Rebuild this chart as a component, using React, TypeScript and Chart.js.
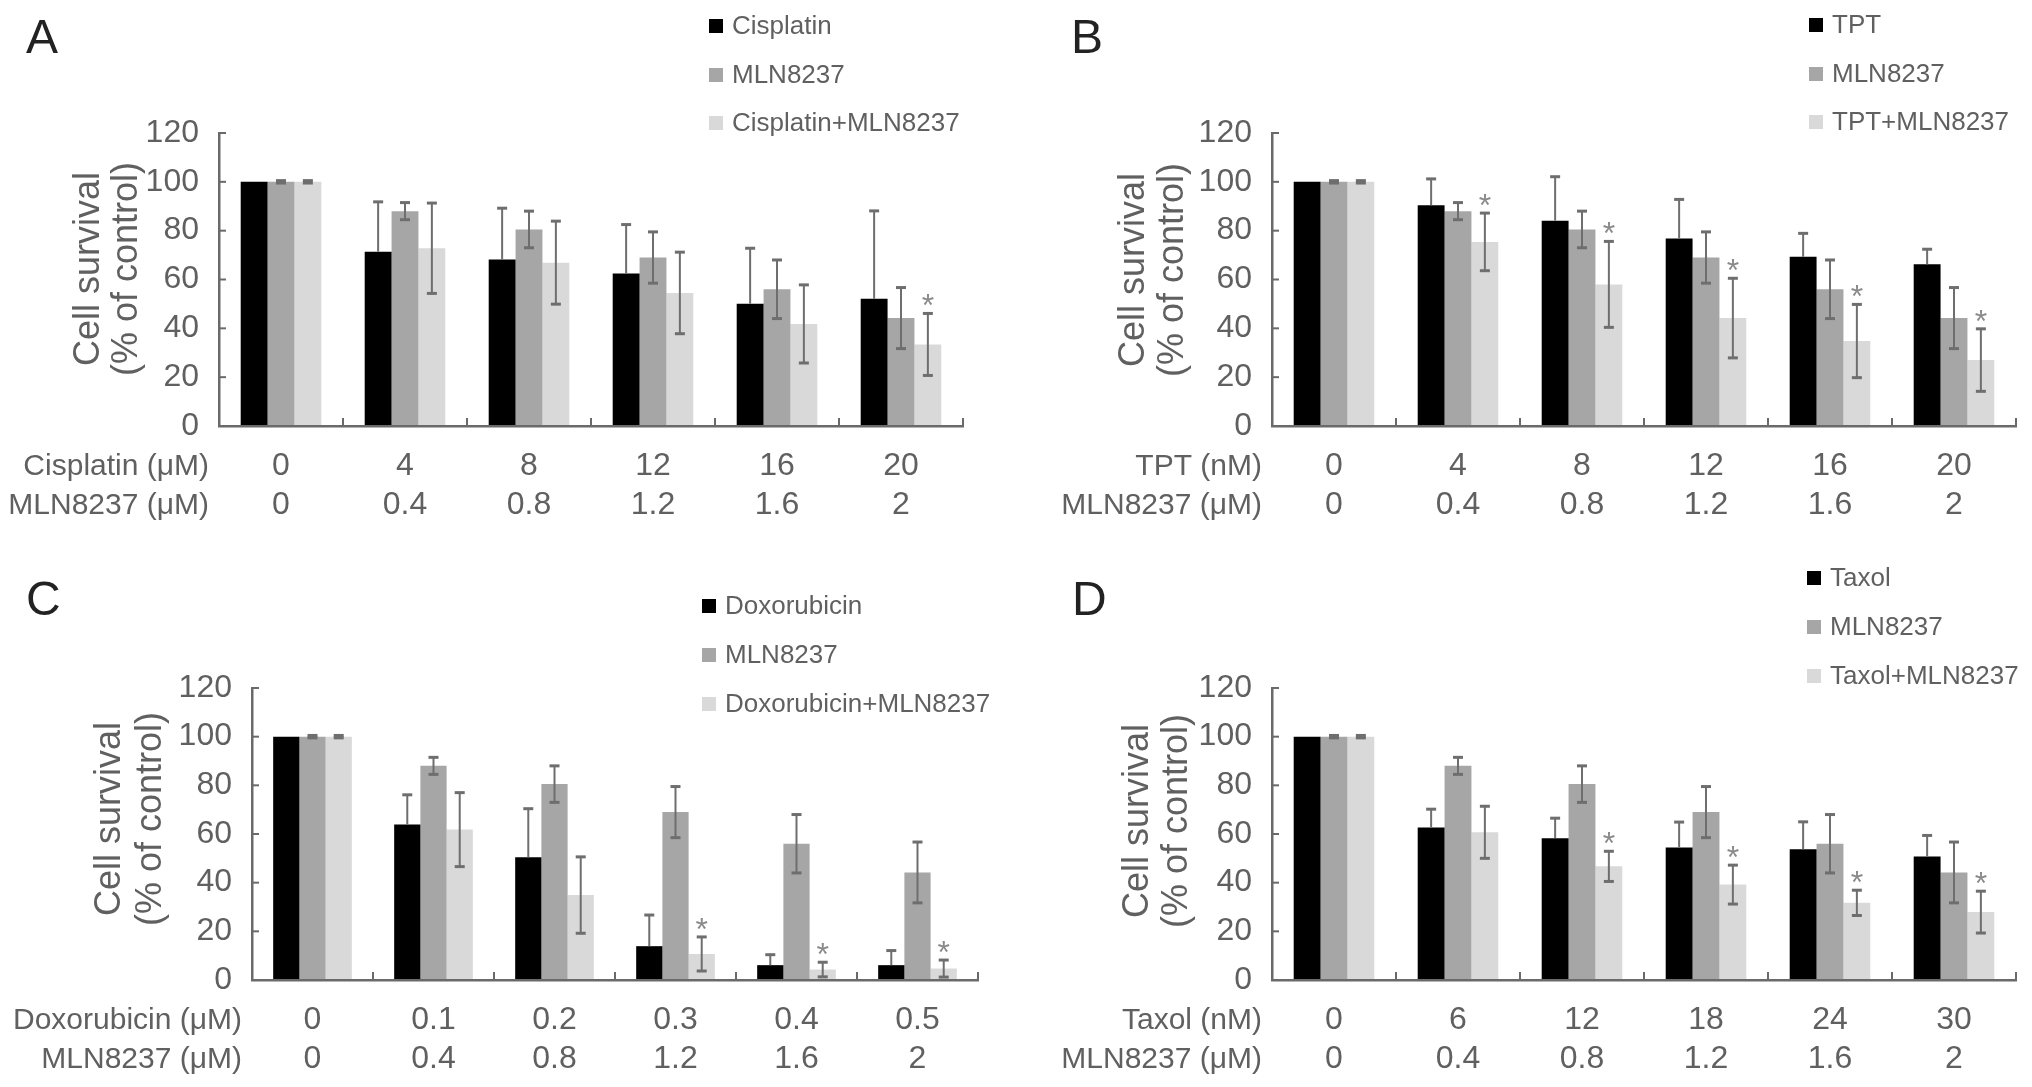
import React, { useEffect, useRef } from "react";
import { Chart, registerables } from "chart.js";

Chart.register(...registerables);

// ---------- shared MLN8237 series ----------
const mlnLabels = ["0", "0.4", "0.8", "1.2", "1.6", "2"];
const mlnValues = [100, 88, 80.5, 69, 56, 44.2];
const mlnErrors = [0.5, 3.5, 7.5, 10.5, 12, 12.5];

// ---------- Panel A: Cisplatin ----------
const cisplatinLabels = ["0", "4", "8", "12", "16", "20"];
const cisplatinValues = [100, 71.4, 68.2, 62.5, 50.1, 52.1];
const cisplatinErrors = [0, 20.4, 21, 20, 22.7, 36];
const cisplatinComboValues = [100, 72.8, 66.9, 54.5, 41.8, 33.4];
const cisplatinComboErrors = [0.5, 18.5, 17, 16.7, 16, 12.7];
const cisplatinStars = [false, false, false, false, false, true];

// ---------- Panel B: TPT ----------
const tptLabels = ["0", "4", "8", "12", "16", "20"];
const tptValues = [100, 90.4, 84.1, 76.8, 69.3, 66.2];
const tptErrors = [0, 10.8, 18, 16, 9.6, 6.2];
const tptComboValues = [100, 75.4, 58, 44.2, 34.8, 27];
const tptComboErrors = [0.5, 11.8, 17.6, 16.3, 15, 12.8];
const tptStars = [false, true, true, true, true, true];

// ---------- Panel C: Doxorubicin ----------
const doxLabels = ["0", "0.1", "0.2", "0.3", "0.4", "0.5"];
const doxValues = [100, 63.9, 50.4, 13.9, 6.1, 6.1];
const doxErrors = [0, 12.2, 20, 12.8, 4.3, 6];
const doxComboValues = [100, 61.8, 34.9, 10.7, 4.3, 4.7];
const doxComboErrors = [0.5, 15.2, 15.7, 7, 3, 3.5];
const doxStars = [false, false, false, true, true, true];

// ---------- Panel D: Taxol ----------
const taxolLabels = ["0", "6", "12", "18", "24", "30"];
const taxolValues = [100, 62.7, 58.3, 54.5, 53.7, 50.8];
const taxolErrors = [0, 7.5, 8.2, 10.4, 11.3, 8.6];
const taxolComboValues = [100, 60.7, 46.7, 39.2, 31.7, 27.9];
const taxolComboErrors = [0.5, 10.7, 6.2, 8, 5.2, 8.6];
const taxolStars = [false, false, true, true, true, true];

const yTitleLines = ["Cell survival", "(% of control)"];

const FONT = "'Liberation Sans', Arial, Helvetica, sans-serif";
const TEXT = "#606060";
const AXIS = "#6a6a6a";
const ERR = "#6e6e6e";
const STAR = "#8a8a8a";
const COLORS = ["#000000", "#a6a6a6", "#d9d9d9"];

const TICK_FONT = 32;
const ROW_FONT = 30;
const ROW_STEP = 39;
const X_PAD = 21;

type Panel = {
  letter: string;
  left: number;
  top: number;
  width: number;
  height: number;
  pad: { left: number; top: number; right: number; bottom: number };
  letterX: number;
  letterY: number;
  legendX: number;
  legendYs: number[];
  titleXs: number[];
  titleY: number;
  rowTitles: string[];
  drugLabels: string[];
  names: string[];
  values: number[][];
  errors: number[][];
  stars: boolean[];
};

const panels: Panel[] = [
  {
    letter: "A",
    left: 0,
    top: 0,
    width: 1016,
    height: 543,
    pad: { left: 219, top: 133, right: 53, bottom: 117 },
    letterX: 26,
    letterY: 53,
    legendX: 709,
    legendYs: [26, 75, 123],
    titleXs: [89, 127],
    titleY: 269,
    rowTitles: ["Cisplatin (\u03bcM)", "MLN8237 (\u03bcM)"],
    drugLabels: cisplatinLabels,
    names: ["Cisplatin", "MLN8237", "Cisplatin+MLN8237"],
    values: [cisplatinValues, mlnValues, cisplatinComboValues],
    errors: [cisplatinErrors, mlnErrors, cisplatinComboErrors],
    stars: cisplatinStars,
  },
  {
    letter: "B",
    left: 1016,
    top: 0,
    width: 1016,
    height: 543,
    pad: { left: 256, top: 133, right: 16, bottom: 117 },
    letterX: 55,
    letterY: 53,
    legendX: 793,
    legendYs: [25, 74, 122],
    titleXs: [118, 157],
    titleY: 270,
    rowTitles: ["TPT (nM)", "MLN8237 (\u03bcM)"],
    drugLabels: tptLabels,
    names: ["TPT", "MLN8237", "TPT+MLN8237"],
    values: [tptValues, mlnValues, tptComboValues],
    errors: [tptErrors, mlnErrors, tptComboErrors],
    stars: tptStars,
  },
  {
    letter: "C",
    left: 0,
    top: 543,
    width: 1016,
    height: 544,
    pad: { left: 252, top: 145, right: 38, bottom: 107 },
    letterX: 26,
    letterY: 72,
    legendX: 702,
    legendYs: [63, 112, 161],
    titleXs: [110, 151],
    titleY: 276,
    rowTitles: ["Doxorubicin (\u03bcM)", "MLN8237 (\u03bcM)"],
    drugLabels: doxLabels,
    names: ["Doxorubicin", "MLN8237", "Doxorubicin+MLN8237"],
    values: [doxValues, mlnValues, doxComboValues],
    errors: [doxErrors, mlnErrors, doxComboErrors],
    stars: doxStars,
  },
  {
    letter: "D",
    left: 1016,
    top: 543,
    width: 1016,
    height: 544,
    pad: { left: 256, top: 145, right: 16, bottom: 107 },
    letterX: 56,
    letterY: 72,
    legendX: 791,
    legendYs: [35, 84, 133],
    titleXs: [122, 161],
    titleY: 278,
    rowTitles: ["Taxol (nM)", "MLN8237 (\u03bcM)"],
    drugLabels: taxolLabels,
    names: ["Taxol", "MLN8237", "Taxol+MLN8237"],
    values: [taxolValues, mlnValues, taxolComboValues],
    errors: [taxolErrors, mlnErrors, taxolComboErrors],
    stars: taxolStars,
  },
];

function line(ctx: CanvasRenderingContext2D, x1: number, y1: number, x2: number, y2: number) {
  ctx.beginPath();
  ctx.moveTo(x1, y1);
  ctx.lineTo(x2, y2);
  ctx.stroke();
}

function makeOverlay(p: Panel) {
  return {
    id: "overlay" + p.letter,
    afterDatasetsDraw(chart: any) {
      const ctx: CanvasRenderingContext2D = chart.ctx;
      const ys = chart.scales.y;
      ctx.save();
      // error bars (the lower arm is invisible on the black bars)
      p.values.forEach((vals, k) => {
        const meta = chart.getDatasetMeta(k);
        vals.forEach((v, i) => {
          const e = p.errors[k][i];
          if (!e) return;
          const bx = meta.data[i].x;
          const yt = ys.getPixelForValue(v + e);
          const ym = ys.getPixelForValue(v);
          const yb = ys.getPixelForValue(Math.max(0, v - e));
          ctx.strokeStyle = ERR;
          ctx.lineWidth = 2;
          line(ctx, bx, yt, bx, k === 0 ? ym : yb);
          ctx.lineWidth = 3;
          line(ctx, bx - 5, yt, bx + 5, yt);
          if (k !== 0) line(ctx, bx - 5, yb, bx + 5, yb);
        });
      });
      // asterisks over the combination bars
      const comboMeta = chart.getDatasetMeta(2);
      ctx.fillStyle = STAR;
      ctx.font = `32px ${FONT}`;
      ctx.textAlign = "center";
      ctx.textBaseline = "alphabetic";
      p.stars.forEach((s, i) => {
        if (!s) return;
        const bx = comboMeta.data[i].x;
        const yt = ys.getPixelForValue(p.values[2][i] + p.errors[2][i]);
        const cy = yt - 15;
        ctx.fillText("*", bx, cy + 18);
      });
      ctx.restore();
    },
    afterDraw(chart: any) {
      const ctx: CanvasRenderingContext2D = chart.ctx;
      const xs = chart.scales.x;
      const ys = chart.scales.y;
      ctx.save();
      // inward tick marks
      ctx.strokeStyle = AXIS;
      ctx.lineWidth = 2;
      const axisX = ys.right;
      const axisY = xs.top;
      ys.ticks.forEach((t: any) => {
        const py = ys.getPixelForValue(t.value);
        line(ctx, axisX, py, axisX + 7, py);
      });
      const n = chart.data.labels.length;
      for (let i = 1; i <= n; i++) {
        const px = xs.getPixelForValue(i - 0.5);
        line(ctx, px, axisY, px, axisY - 8);
      }
      // row titles
      ctx.fillStyle = TEXT;
      ctx.font = `${ROW_FONT}px ${FONT}`;
      ctx.textAlign = "right";
      ctx.textBaseline = "middle";
      const row1 = axisY + X_PAD + ROW_STEP / 2;
      p.rowTitles.forEach((t, r) => {
        ctx.fillText(t, axisX - 10, row1 + r * ROW_STEP);
      });
      // y-axis title (two rotated lines)
      ctx.font = `36px ${FONT}`;
      ctx.textAlign = "center";
      yTitleLines.forEach((t, r) => {
        ctx.save();
        ctx.translate(p.titleXs[r], p.titleY);
        ctx.rotate(-Math.PI / 2);
        ctx.fillText(t, 0, 0);
        ctx.restore();
      });
      // legend
      ctx.font = `26px ${FONT}`;
      ctx.textAlign = "left";
      p.names.forEach((name, k) => {
        const cy = p.legendYs[k];
        ctx.fillStyle = COLORS[k];
        ctx.fillRect(p.legendX, cy - 7, 14, 14);
        ctx.fillStyle = TEXT;
        ctx.fillText(name, p.legendX + 23, cy + 1);
      });
      // panel letter
      ctx.fillStyle = "#222222";
      ctx.font = `48px ${FONT}`;
      ctx.textAlign = "left";
      ctx.textBaseline = "alphabetic";
      ctx.fillText(p.letter, p.letterX, p.letterY);
      ctx.restore();
    },
  };
}

function PanelChart({ p }: { p: Panel }) {
  const ref = useRef<HTMLCanvasElement>(null);
  useEffect(() => {
    if (!ref.current) return;
    const chart = new Chart(ref.current, {
      type: "bar",
      data: {
        labels: p.drugLabels.map((d, i) => [d, mlnLabels[i]]),
        datasets: p.names.map((name, k) => ({
          label: name,
          data: p.values[k],
          backgroundColor: COLORS[k],
          borderWidth: 0,
          categoryPercentage: 0.65,
          barPercentage: 1.0,
        })),
      },
      options: {
        responsive: false,
        animation: false,
        devicePixelRatio: 1,
        layout: { padding: { left: 0, top: p.pad.top, right: p.pad.right, bottom: 0 } },
        plugins: {
          legend: { display: false },
          tooltip: { enabled: false },
          title: { display: false },
        },
        scales: {
          x: {
            grid: { display: false, drawTicks: false },
            border: { display: true, color: AXIS, width: 2.5, z: 1 },
            ticks: {
              color: TEXT,
              font: { family: FONT, size: TICK_FONT, lineHeight: ROW_STEP / TICK_FONT },
              padding: X_PAD,
              maxRotation: 0,
              minRotation: 0,
              autoSkip: false,
            },
            afterFit: (s: any) => {
              s.height = p.pad.bottom;
            },
          },
          y: {
            min: 0,
            max: 120,
            grid: { display: false, drawTicks: false },
            border: { display: true, color: AXIS, width: 2.5, z: 1 },
            ticks: {
              stepSize: 20,
              color: TEXT,
              font: { family: FONT, size: TICK_FONT },
              padding: 20,
            },
            afterFit: (s: any) => {
              s.width = p.pad.left;
            },
          },
        },
      } as any,
      plugins: [makeOverlay(p)],
    });
    return () => chart.destroy();
  }, [p]);
  return (
    <canvas
      ref={ref}
      width={p.width}
      height={p.height}
      style={{ position: "absolute", left: p.left, top: p.top, width: p.width, height: p.height }}
    />
  );
}

export default function App() {
  return (
    <div
      style={{
        position: "fixed",
        left: 0,
        top: 0,
        width: 2032,
        height: 1087,
        background: "#ffffff",
        overflow: "hidden",
      }}
    >
      {panels.map((p) => (
        <PanelChart key={p.letter} p={p} />
      ))}
    </div>
  );
}
